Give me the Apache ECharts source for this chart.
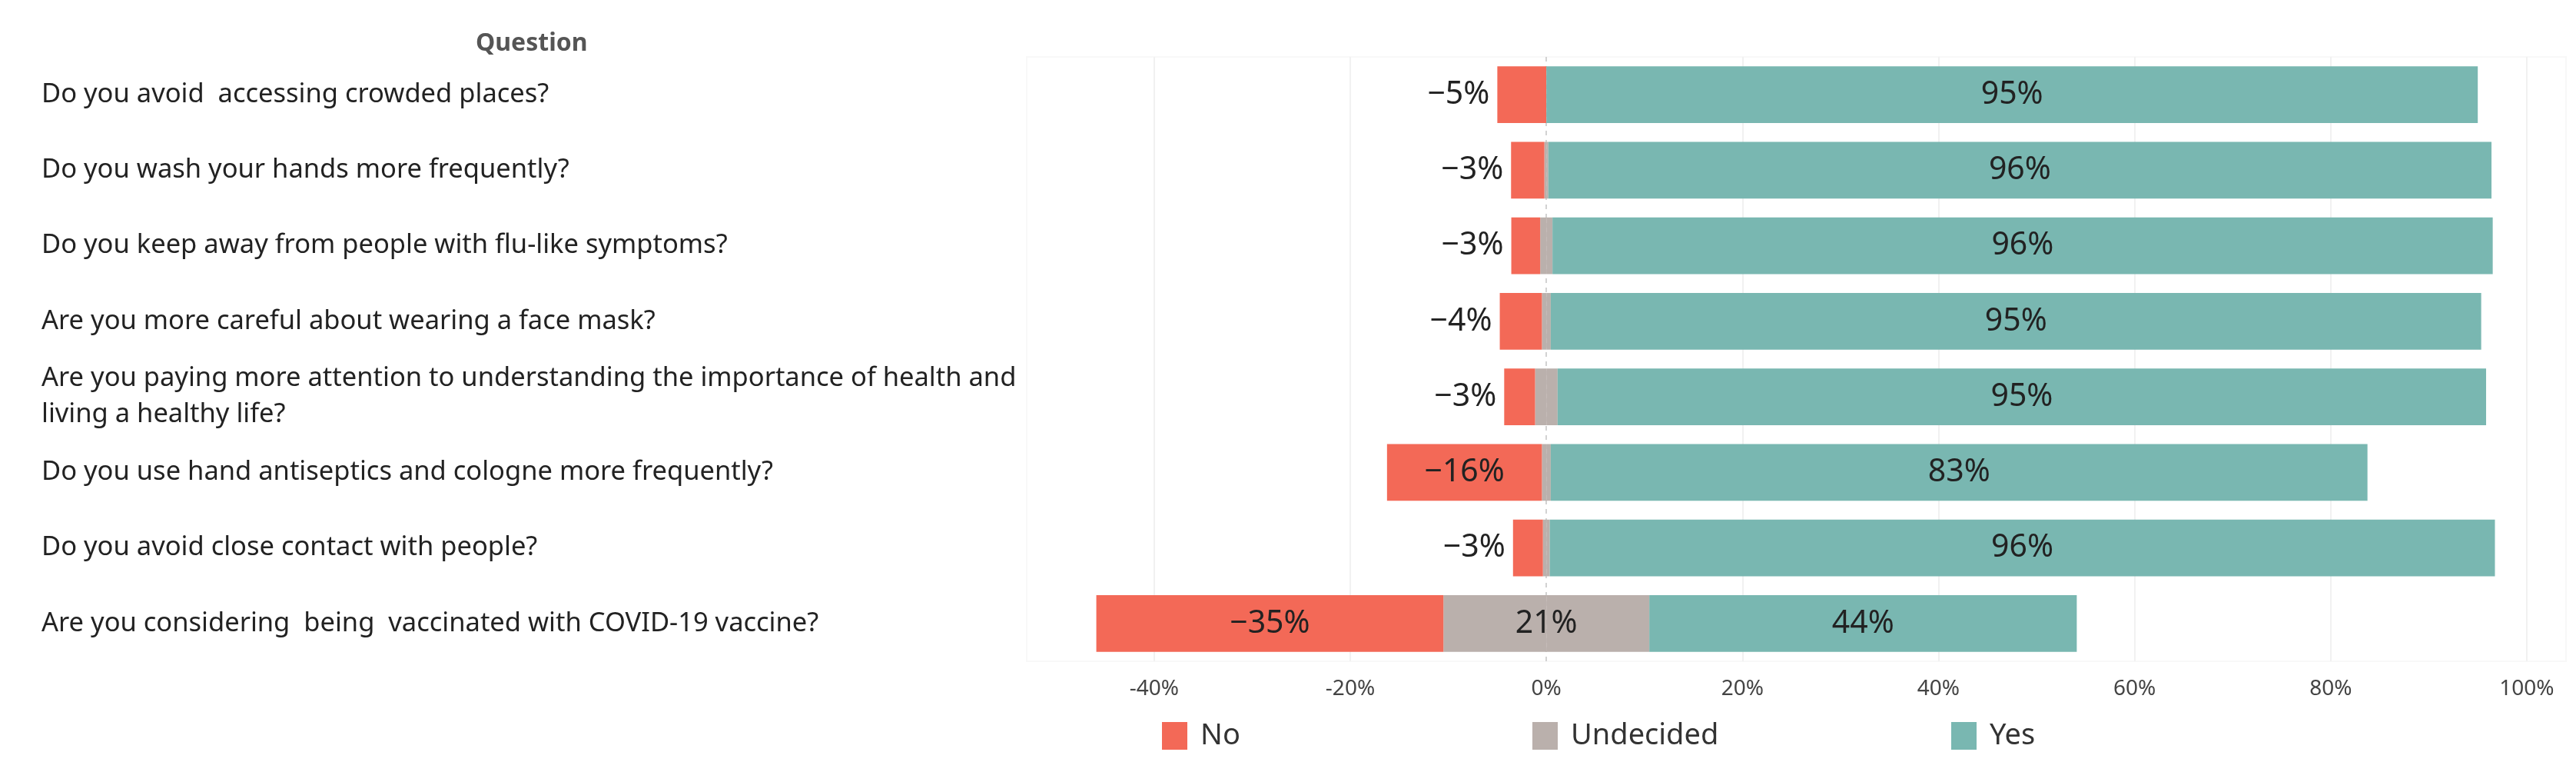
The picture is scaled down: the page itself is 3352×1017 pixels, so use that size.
<!DOCTYPE html>
<html>
<head>
<meta charset="utf-8">
<script src="https://cdn.jsdelivr.net/npm/echarts@6/dist/echarts.min.js"></script>
<style>html,body{margin:0;padding:0;background:#fff}#c{width:3352px;height:1017px}</style>
</head>
<body>
<div id="c"></div>
<script>
const categories = [
  "Do you avoid  accessing crowded places?",
  "Do you wash your hands more frequently?",
  "Do you keep away from people with flu-like symptoms?",
  "Are you more careful about wearing a face mask?",
  "Are you paying more attention to understanding the importance of health and\nliving a healthy life?",
  "Do you use hand antiseptics and cologne more frequently?",
  "Do you avoid close contact with people?",
  "Are you considering  being  vaccinated with COVID-19 vaccine?"
];
const noValues        = [5.0, 3.4, 2.95, 4.3, 3.15, 15.8, 3.05, 35.4];
const undecidedValues = [0.0, 0.4, 1.25, 0.9, 2.3, 0.9, 0.7, 21.0];
const yesValues       = [95.0, 96.2, 95.9, 94.9, 94.7, 83.3, 96.4, 43.6];
const tickValues = [-40, -20, 0, 20, 40, 60, 80, 100];
const xMin = -53, xMax = 104;

const RED = '#f36957', GRAY = '#bab0ac', TEAL = '#79b7b1';
const FONT = 'Noto Sans';

const chart = echarts.init(document.getElementById('c'), null, {renderer: 'canvas'});

const labelBase = {fontFamily: FONT, fontSize: 41, color: '#222'};

const noData = noValues.map(v => ({
  value: -v,
  label: v >= 10
    ? Object.assign({show: true, position: 'inside'}, labelBase)
    : Object.assign({show: true, position: 'left', distance: 10}, labelBase)
}));
const undNegData = undecidedValues.map(v => -v / 2);
const undPosData = undecidedValues.map(v => ({
  value: v / 2,
  label: Object.assign({
    show: v >= 10, position: [0, '50%'], align: 'center', verticalAlign: 'middle',
    formatter: p => Math.round(p.value * 2) + '%'
  }, labelBase)
}));
const yesData = yesValues.map(v => v);

const option = {
  animation: false,
  title: {
    text: 'Question', left: 614, top: 36,
    textStyle: {fontFamily: FONT, fontSize: 32, fontWeight: 'bold', color: '#555'}
  },
  legend: [
    {data: ['No'], left: 1507, top: 933},
    {data: ['Undecided'], left: 1989, top: 933},
    {data: ['Yes'], left: 2534, top: 933}
  ].map(l => Object.assign(l, {
    icon: 'rect', itemWidth: 33, itemHeight: 36, selectedMode: false,
    textStyle: {fontFamily: FONT, fontSize: 38, color: '#333', padding: [0, 0, 0, 12]}
  })),
  grid: {
    left: 1336, right: 13, top: 74, bottom: 157,
    show: true, borderColor: '#f8f8f8', borderWidth: 2, backgroundColor: 'transparent'
  },
  xAxis: {
    type: 'value', min: xMin, max: xMax,
    axisLine: {show: false}, axisTick: {show: false}, splitLine: {show: false},
    axisLabel: {
      customValues: tickValues,
      formatter: v => v + '%',
      fontFamily: FONT, fontSize: 28, color: '#444', margin: 22
    }
  },
  yAxis: {
    type: 'category', data: categories, inverse: true,
    axisLine: {show: false}, axisTick: {show: false},
    axisLabel: {
      align: 'left', margin: 1282, fontFamily: FONT, fontSize: 34.5, color: '#222', lineHeight: 47
    }
  },
  series: [
    {
      name: 'Undecided', type: 'bar', stack: 'all', data: undNegData,
      itemStyle: {color: GRAY}, barCategoryGap: '25%',
      markLine: {
        silent: true, symbol: 'none', z: 1, label: {show: false},
        lineStyle: {color: '#d2d2d2', width: 2, type: [6, 6]},
        data: [{xAxis: 0}]
      }
    },
    {
      name: 'Undecided', type: 'bar', stack: 'all', data: undPosData,
      itemStyle: {color: GRAY}, barCategoryGap: '25%'
    },
    {
      name: 'No', type: 'bar', stack: 'all', data: noData,
      itemStyle: {color: RED}, barCategoryGap: '25%',
      label: {formatter: p => '\u2212' + Math.round(-p.value) + '%'}
    },
    {
      name: 'Yes', type: 'bar', stack: 'all', data: yesData,
      itemStyle: {color: TEAL}, barCategoryGap: '25%',
      label: Object.assign({show: true, position: 'inside', formatter: p => Math.round(p.value) + '%'}, labelBase),
      markLine: {
        silent: true, symbol: 'none', z: 1, label: {show: false},
        lineStyle: {color: '#f1f1f1', width: 2, type: 'solid'},
        data: tickValues.filter(v => v !== 0).map(v => ({xAxis: v}))
      }
    }
  ]
};
chart.setOption(option);
</script>
</body>
</html>
